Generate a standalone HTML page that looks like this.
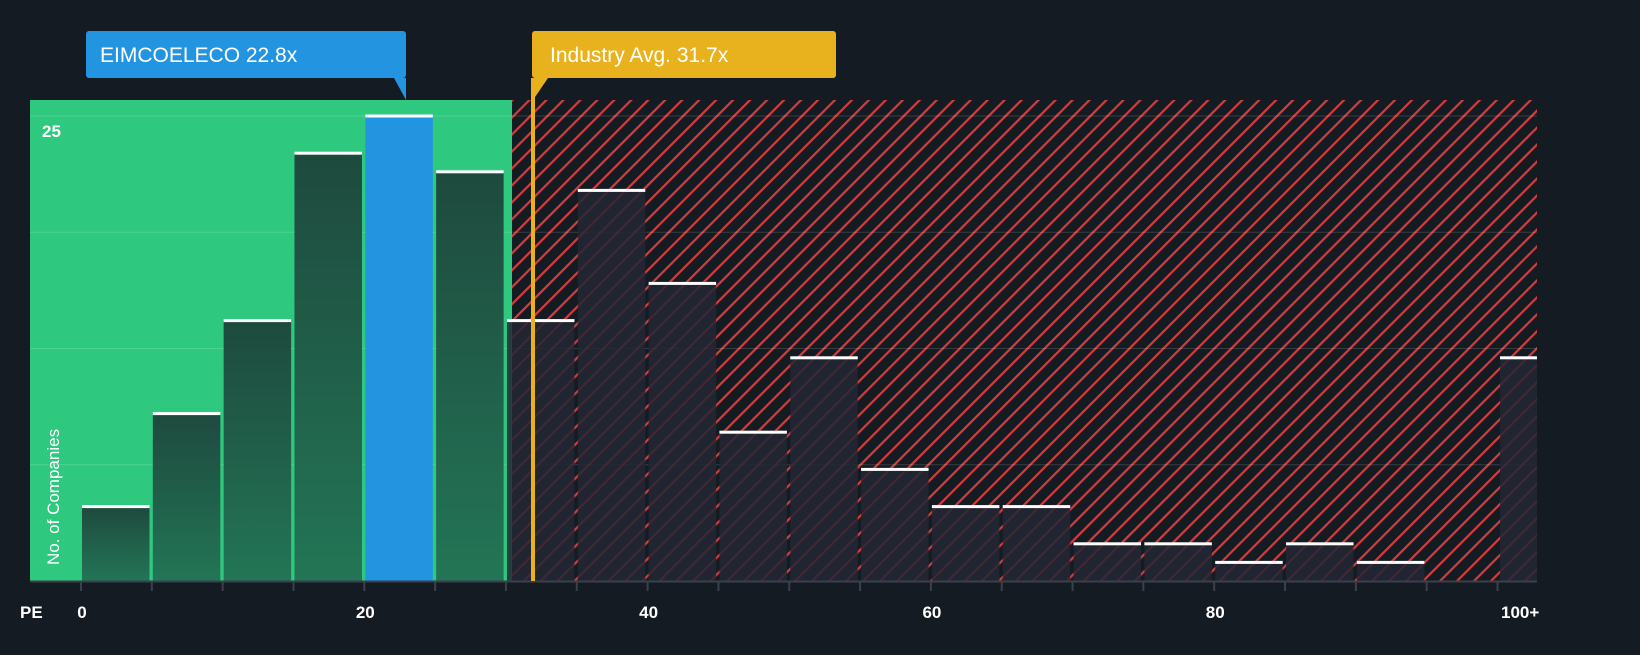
<!DOCTYPE html>
<html><head><meta charset="utf-8"><style>
body{margin:0;background:#151b23;width:1640px;height:650px;overflow:hidden;font-family:"Liberation Sans",Roboto,sans-serif}
</style></head><body>
<svg width="1640" height="650">
<defs>
<pattern id="hatch" patternUnits="userSpaceOnUse" width="12" height="12" patternTransform="rotate(45)">
<rect width="12" height="12" fill="#151b23"/><rect x="0" y="0" width="2.2" height="12" fill="#d63c3c"/>
</pattern>
<linearGradient id="gb" x1="0" y1="0" x2="0" y2="1"><stop offset="0" stop-color="#1e4a3e"/><stop offset="1" stop-color="#237556"/></linearGradient>
</defs>
<rect x="30" y="100" width="482" height="481" fill="#2ec87f"/>
<rect x="512" y="100" width="1025" height="481" fill="url(#hatch)"/>
<g id="grid"></g>
<g id="bars"></g>
<line x1="30" y1="581.5" x2="1537" y2="581.5" stroke="#3a414b" stroke-width="2"/>
<rect x="531" y="78" width="4" height="503" fill="#e8b21e"/>
<g id="ticks"></g>
<text x="42" y="137" fill="#fff" font-size="17" font-weight="bold">25</text>
<text x="59" y="565" fill="#fff" font-size="17" transform="rotate(-90 59 565)">No. of Companies</text>
<text x="20" y="618" fill="#fff" font-size="17" font-weight="bold">PE</text>
<g>
<rect x="86" y="31" width="320" height="47" rx="3" fill="#2394e0"/>
<path d="M394 78 L406 78 L406 100 Z" fill="#2394e0"/>
<text x="100" y="62" fill="#fff" font-size="21">EIMCOELECO 22.8x</text>
</g>
<g>
<rect x="532" y="31" width="304" height="47" rx="3" fill="#e8b21e"/>
<path d="M533 78 L548 78 L533 100 Z" fill="#e8b21e"/>
<text x="550" y="62" fill="#fff" font-size="21">Industry Avg. 31.7x</text>
</g>
</svg>
<script>
const binStarts=[0,5,10,15,20,25,30,35,40,45,50,55,60,65,70,75,80,85,90,95,100];
const counts=[4,9,14,23,25,22,14,21,16,8,12,6,4,4,2,2,1,2,1,0,12];
const tickValues=[0,20,40,60,80,100];
const tickLabels=["0","20","40","60","80","100+"];
const highlightBin=20, industryAvg=31.7;
const NS="http://www.w3.org/2000/svg";
const xs=v=>81+v*14.165;
const ys=c=>581-c*18.6;
const bars=document.getElementById('bars');
binStarts.forEach((b,i)=>{
  const c=counts[i]; if(c<=0) return;
  let x=xs(b)+1, w=67.5;
  if(b===100){x=1500;w=37;}
  const y=ys(c);
  const r=document.createElementNS(NS,'rect');
  r.setAttribute('x',x);r.setAttribute('y',y);r.setAttribute('width',w);r.setAttribute('height',581-y);
  const below=b+5<=industryAvg-1;
  r.setAttribute('fill',b===highlightBin?'#2394e0':(below?'url(#gb)':'rgba(35,38,52,0.85)'));
  
  
  bars.appendChild(r);
  const t=document.createElementNS(NS,'rect');
  t.setAttribute('x',x);t.setAttribute('y',y-1.5);t.setAttribute('width',w);t.setAttribute('height',3);t.setAttribute('fill','#fff');
  
  
  bars.appendChild(t);
});
const grid=document.getElementById('grid');
[6.25,12.5,18.75,25].forEach(g=>{
  const l=document.createElementNS(NS,'line');
  l.setAttribute('x1',30);l.setAttribute('x2',1537);l.setAttribute('y1',ys(g));l.setAttribute('y2',ys(g));
  l.setAttribute('stroke','rgba(255,255,255,0.15)');
  
  
  grid.appendChild(l);
});
const ticks=document.getElementById('ticks');
binStarts.forEach(b=>{
  const x=xs(b);
  const tk=document.createElementNS(NS,'line');
  tk.setAttribute('x1',x);tk.setAttribute('x2',x);tk.setAttribute('y1',581);tk.setAttribute('y2',591);tk.setAttribute('stroke','#3a414b');tk.setAttribute('stroke-width','2');
  
  
  ticks.appendChild(tk);
});
tickValues.forEach((v,i)=>{
  const x=xs(v);
  const t=document.createElementNS(NS,'text');
  t.setAttribute('x',v===100?1501:x+1);t.setAttribute('y',618);t.setAttribute('fill','#fff');
  t.setAttribute('font-size','17');t.setAttribute('font-weight','bold');
  t.setAttribute('text-anchor',v===100?'start':'middle');
  t.textContent=tickLabels[i];
  
  
  ticks.appendChild(t);
});
</script>
</body></html>
